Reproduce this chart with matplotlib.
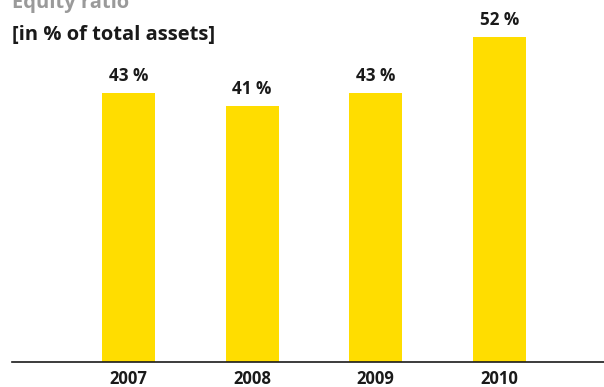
import matplotlib.pyplot as plt
import numpy as np

years = ['2007', '2008', '2009', '2010']
equity_ratio = [43, 41, 43, 52]
value_labels = ['43 %', '41 %', '43 %', '52 %']

plt.rcParams['font.family'] = ['Open Sans', 'DejaVu Sans']

fig = plt.figure(figsize=(6.04, 3.87), dpi=100)
ax = fig.add_axes([12/604, 1 - 362/387, 592/604, 362/387])

xs = np.arange(len(years))
ax.bar(xs, equity_ratio, width=0.43, color='#ffdd00')
for x, v, lab in zip(xs, equity_ratio, value_labels):
    ax.text(x, v + 1.25, lab, ha='center', va='bottom', fontsize=12.3,
            fontweight='bold', color='#1a1a1a')

ax.set_xlim(-0.942, 3.845)
ax.set_ylim(0, 57.92)
ax.set_xticks(xs)
ax.set_xticklabels(years, fontsize=12, fontweight='bold', color='#1a1a1a')
ax.tick_params(axis='x', length=0, pad=6)
ax.set_yticks([])
for s in ['top', 'right', 'left']:
    ax.spines[s].set_visible(False)
ax.spines['bottom'].set_linewidth(1.2)
ax.spines['bottom'].set_color('#1a1a1a')

fig.text(12/604, 1 - 8/387, 'Equity ratio', fontsize=14.5, fontweight='bold',
         color='#9a9a9a', va='baseline')
fig.text(12/604, 1 - 40/387, '[in % of total assets]', fontsize=14.5,
         fontweight='bold', color='#1a1a1a', va='baseline')

fig.savefig('out.png', dpi=100)
